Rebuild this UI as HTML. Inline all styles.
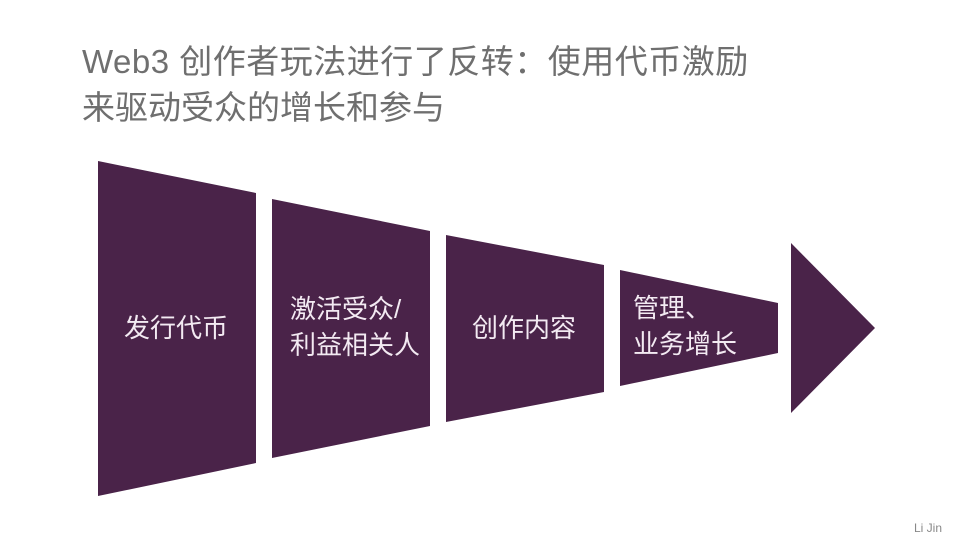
<!DOCTYPE html>
<html><head><meta charset="utf-8"><style>
html,body{margin:0;padding:0;background:#fff;}
body{width:972px;height:545px;position:relative;overflow:hidden;font-family:"Liberation Sans","Noto Sans CJK SC",sans-serif;}
.t{position:absolute;left:82px;font-size:33px;color:#6f6f6f;white-space:nowrap;line-height:1;}
.l{position:absolute;color:#f3eaf2;font-size:26px;line-height:36px;white-space:nowrap;}
</style></head><body>
<div class="t" style="top:45px;letter-spacing:0.5px">Web3 创作者玩法进行了反转：使用代币激励</div>
<div class="t" style="top:91px">来驱动受众的增长和参与</div>
<svg width="972" height="545" style="position:absolute;left:0;top:0">
<g fill="#4a2349">
<polygon points="98,161 256,193 256,463 98,496"/>
<polygon points="272,199 430,231 430,426 272,458"/>
<polygon points="446,235 604,265 604,392 446,422"/>
<polygon points="620,270 778,303 778,353 620,386"/>
<polygon points="791,243 875,328 791,413"/>
</g>
<text x="914" y="532" font-size="12" fill="#888" font-family="Liberation Sans, sans-serif">Li Jin</text>
</svg>
<div class="l" style="left:124px;top:310px">发行代币</div>
<div class="l" style="left:290px;top:291px">激活受众/<br>利益相关人</div>
<div class="l" style="left:472px;top:310px">创作内容</div>
<div class="l" style="left:633px;top:290px">管理、<br>业务增长</div>
</body></html>
